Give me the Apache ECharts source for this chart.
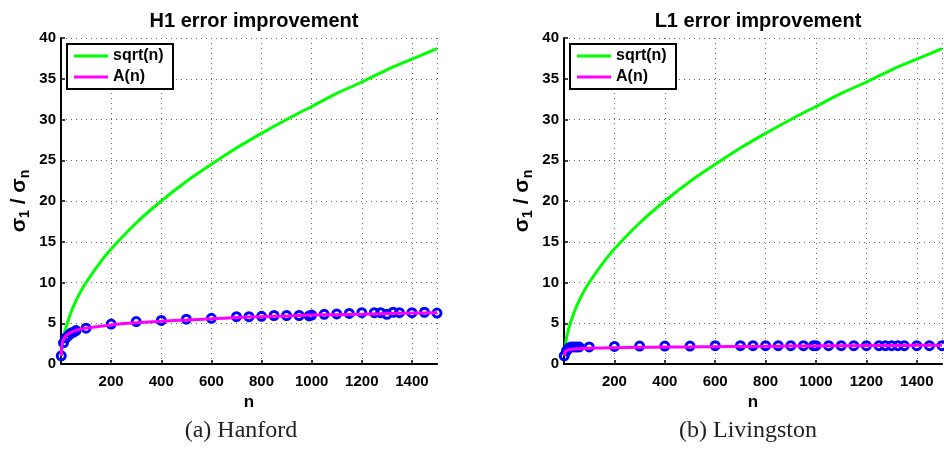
<!DOCTYPE html>
<html>
<head>
<meta charset="utf-8">
<script src="https://cdn.jsdelivr.net/npm/echarts@6/dist/echarts.min.js"></script>
<style>html,body{margin:0;padding:0;background:#fff}#c{width:944px;height:456px}</style>
</head>
<body>
<div id="c"></div>
<script>
// ---- data ----
const titles = ['H1 error improvement', 'L1 error improvement'];
const captions = ['(a) Hanford', '(b) Livingston'];
const xTicks = [200, 400, 600, 800, 1000, 1200, 1400];

const curveN = [1, 3, 6, 10, 20, 35, 50, 75, 100, 150, 200, 300, 400, 500, 600, 700, 800, 900, 1000, 1100, 1200, 1300, 1400, 1500];
const sqrtVals = [1, 1.7, 2.4, 3.2, 4.5, 5.9, 7.1, 8.7, 10, 12.2, 14.1, 17.3, 20, 22.4, 24.5, 26.5, 28.3, 30, 31.6, 33.2, 34.6, 36.1, 37.4, 38.7];
const aH1 = [1.0, 2.0, 2.6, 3.0, 3.45, 3.8, 4.0, 4.25, 4.4, 4.6, 4.8, 5.05, 5.25, 5.4, 5.55, 5.7, 5.8, 5.9, 6.0, 6.05, 6.1, 6.2, 6.25, 6.3];
const aL1 = [1.0, 1.35, 1.55, 1.65, 1.75, 1.82, 1.86, 1.9, 1.93, 1.97, 2.0, 2.05, 2.08, 2.1, 2.13, 2.15, 2.17, 2.2, 2.22, 2.24, 2.26, 2.27, 2.29, 2.3];

const pointN = [1, 10, 20, 30, 40, 50, 60, 100, 200, 300, 400, 500, 600, 700, 750, 800, 850, 900, 950, 990, 1000, 1050, 1100, 1150, 1200, 1250, 1275, 1300, 1325, 1350, 1400, 1450, 1500];
const pointsH1 = [1.0, 2.6, 3.2, 3.5, 3.8, 3.9, 4.1, 4.4, 4.9, 5.2, 5.35, 5.5, 5.6, 5.8, 5.8, 5.85, 5.95, 5.95, 5.95, 5.9, 6.0, 6.1, 6.15, 6.2, 6.3, 6.3, 6.3, 6.1, 6.35, 6.3, 6.3, 6.35, 6.25];
const pointsL1 = [1.0, 1.6, 2.0, 2.1, 2.1, 2.1, 2.1, 2.1, 2.15, 2.2, 2.2, 2.2, 2.25, 2.25, 2.25, 2.25, 2.25, 2.25, 2.25, 2.25, 2.25, 2.25, 2.25, 2.25, 2.25, 2.25, 2.25, 2.25, 2.25, 2.25, 2.25, 2.25, 2.25];

// ---- build ----
const zip = (xs, ys) => xs.map((x, i) => [x, ys[i]]);
const FONT = '"Liberation Sans", Arial, sans-serif';
const gridsPos = [
  { left: 61, top: 38, width: 376, height: 326 },
  { left: 564, top: 38, width: 378, height: 326 }
];
const captionX = [241, 748];

const xAxes = [], yAxes = [], series = [], titleArr = [], legends = [], graphics = [];
gridsPos.forEach((g, i) => {
  xAxes.push({
    type: 'value', gridIndex: i, min: 0, max: 1500, interval: 200,
    name: 'n', nameLocation: 'middle', nameGap: 25,
    nameTextStyle: { fontFamily: FONT, fontWeight: 'bold', fontSize: 17, color: '#000' },
    axisLine: { show: true, onZero: false, lineStyle: { color: '#000', width: 2 } },
    axisTick: { show: true, inside: true, length: 4, lineStyle: { color: '#000', width: 1.5 } },
    axisLabel: {
      margin: 10, fontFamily: FONT, fontWeight: 'bold', fontSize: 15, color: '#000',
      showMaxLabel: false,
      formatter: v => (xTicks.indexOf(v) >= 0 ? String(v) : '')
    },
    splitLine: { show: true, lineStyle: { color: '#666', type: [1, 4], width: 1 } }
  });
  yAxes.push({
    type: 'value', gridIndex: i, min: 0, max: 40, interval: 5,
    name: '{b|σ}{s|1}{b| / σ}{s|n}', nameLocation: 'middle', nameGap: 29, nameRotate: 90,
    nameTextStyle: {
      rich: {
        b: { fontFamily: FONT, fontWeight: 'bold', fontSize: 21, color: '#000', lineHeight: 26, verticalAlign: 'middle' },
        s: { fontFamily: FONT, fontWeight: 'bold', fontSize: 14, color: '#000', lineHeight: 26, verticalAlign: 'bottom', padding: [9, 0, 0, 0] }
      }
    },
    axisLine: { show: true, onZero: false, lineStyle: { color: '#000', width: 2 } },
    axisTick: { show: true, inside: true, length: 4, lineStyle: { color: '#000', width: 1.5 } },
    axisLabel: { margin: 5, fontFamily: FONT, fontWeight: 'bold', fontSize: 15, color: '#000' },
    splitLine: { show: true, lineStyle: { color: '#666', type: [1, 4], width: 1 } }
  });
  const pts = i === 0 ? pointsH1 : pointsL1;
  const aV = i === 0 ? aH1 : aL1;
  series.push({
    type: 'line', name: 'sqrt(n)', xAxisIndex: i, yAxisIndex: i,
    data: zip(curveN, sqrtVals), smooth: 0.3, symbol: 'none',
    lineStyle: { color: '#00ff00', width: 3 }, itemStyle: { color: '#00ff00' }, z: 3
  });
  series.push({
    type: 'scatter', name: 'points', xAxisIndex: i, yAxisIndex: i,
    data: zip(pointN, pts), symbol: 'circle', symbolSize: 8,
    itemStyle: { color: 'rgba(0,0,0,0)', borderColor: '#0000ff', borderWidth: 3, opacity: 1 },
    emphasis: { disabled: true }, z: 4
  });
  series.push({
    type: 'line', name: 'A(n)', xAxisIndex: i, yAxisIndex: i,
    data: zip(curveN, aV), smooth: 0.3, symbol: 'none',
    lineStyle: { color: '#ff00ff', width: 3 }, itemStyle: { color: '#ff00ff' }, z: 5
  });
  const cx = g.left + g.width / 2;
  titleArr.push({
    text: titles[i], left: cx, top: 6, textAlign: 'center',
    textStyle: { fontFamily: FONT, fontWeight: 'bold', fontSize: 20, color: '#000' }
  });
  legends.push({
    data: ['sqrt(n)', 'A(n)'], orient: 'vertical', left: g.left + 6, top: 44,
    padding: [4, 8, 4, 7], itemGap: 5, itemWidth: 34, itemHeight: 3, icon: 'rect',
    borderColor: '#000', borderWidth: 2, backgroundColor: '#fff', selectedMode: false,
    textStyle: { fontFamily: FONT, fontWeight: 'bold', fontSize: 16, color: '#000', width: 52, lineHeight: 16 }
  });
  graphics.push({
    type: 'text', x: captionX[i], y: 419,
    style: { text: captions[i], font: '24px "Liberation Serif", "DejaVu Serif", serif', fill: '#222', align: 'center', textAlign: 'center' }
  });
});

const chart = echarts.init(document.getElementById('c'), null, { renderer: 'canvas' });
chart.setOption({
  animation: false,
  backgroundColor: '#fff',
  title: titleArr,
  legend: legends,
  grid: gridsPos,
  xAxis: xAxes,
  yAxis: yAxes,
  series: series,
  graphic: graphics
});
</script>
</body>
</html>
